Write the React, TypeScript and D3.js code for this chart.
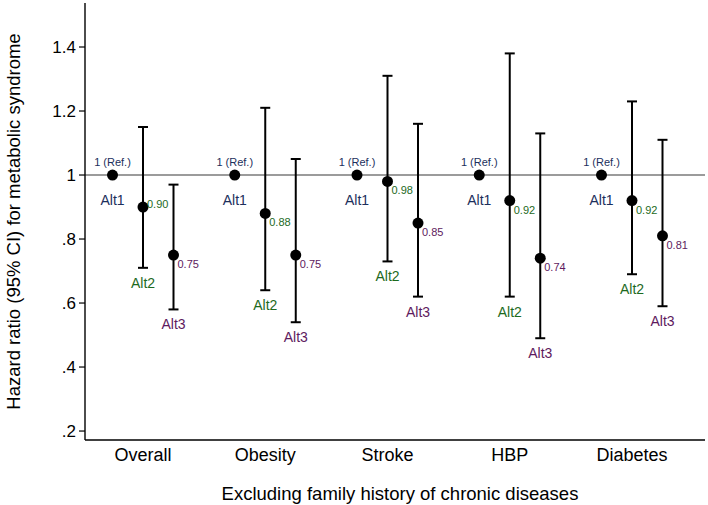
import React from "react";
import * as d3 from "d3";

const categories = ["Overall", "Obesity", "Stroke", "HBP", "Diabetes"];
const alts = ["Alt1", "Alt2", "Alt3"];
// hazard ratios
const alt2HR = [0.9, 0.88, 0.98, 0.92, 0.92];
const alt2Lo = [0.71, 0.64, 0.73, 0.62, 0.69];
const alt2Hi = [1.15, 1.21, 1.31, 1.38, 1.23];
const alt3HR = [0.75, 0.75, 0.85, 0.74, 0.81];
const alt3Lo = [0.58, 0.54, 0.62, 0.49, 0.59];
const alt3Hi = [0.97, 1.05, 1.16, 1.13, 1.11];
const yTicks = [0.2, 0.4, 0.6, 0.8, 1, 1.2, 1.4];
const yTickLabels = [".2", ".4", ".6", ".8", "1", "1.2", "1.4"];

const W = 708;
const H = 505;
const FONT = "'Liberation Sans', Arial, Helvetica, sans-serif";
const NAVY = "#1c2f5c";
const GREEN = "#1d6a1d";
const PURPLE = "#5e1a5e";

export default function App() {
  const left = 85;
  const right = 705;
  const top = 3;
  const bottom = 440;

  const y = d3.scaleLinear().domain([0.172, 1.5375]).range([bottom, top]);
  const xCat = d3.scalePoint<string>().domain(categories).range([143, 632]);
  const xAlt = d3.scalePoint<string>().domain(alts).range([-30.5, 30.5]);

  const series = [
    { alt: "Alt2", hr: alt2HR, lo: alt2Lo, hi: alt2Hi, color: GREEN },
    { alt: "Alt3", hr: alt3HR, lo: alt3Lo, hi: alt3Hi, color: PURPLE },
  ];

  const capW = 5;

  return (
    <svg
      width={W}
      height={H}
      style={{ position: "absolute", left: 0, top: 0, background: "#fff" }}
      fontFamily={FONT}
    >
      <rect width={W} height={H} fill="#fff" />
      {/* reference line */}
      <line x1={left} x2={right} y1={y(1)} y2={y(1)} stroke="#7a7a7a" strokeWidth={1.6} />

      {/* axes */}
      <line x1={left} x2={left} y1={top} y2={bottom} stroke="#000" strokeWidth={1.4} />
      <line x1={left} x2={right} y1={bottom} y2={bottom} stroke="#000" strokeWidth={1.4} />
      {yTicks.map((t, i) => (
        <g key={t}>
          <line x1={left - 6} x2={left} y1={y(t)} y2={y(t)} stroke="#000" strokeWidth={1.2} />
          <text
            x={left - 9}
            y={y(t)}
            dy="0.36em"
            textAnchor="end"
            fontSize={17}
            fill="#000"
          >
            {yTickLabels[i]}
          </text>
        </g>
      ))}
      <text
        transform={`translate(14,${(top + bottom) / 2}) rotate(-90)`}
        textAnchor="middle"
        fontSize={18.5}
        dy="0.35em"
        fill="#000"
      >
        Hazard ratio (95% CI) for metabolic syndrome
      </text>

      {categories.map((c) => (
        <text
          key={c}
          x={xCat(c)!}
          y={bottom + 21}
          textAnchor="middle"
          fontSize={18}
          fill="#000"
        >
          {c}
        </text>
      ))}
      <text x={(left + right) / 2 + 5} y={500} textAnchor="middle" fontSize={18.5} fill="#000">
        Excluding family history of chronic diseases
      </text>

      {/* Alt1 reference points */}
      {categories.map((c) => {
        const cx = xCat(c)! + xAlt("Alt1")!;
        return (
          <g key={"a1" + c}>
            <circle cx={cx} cy={y(1)} r={5.5} fill="#000" />
            <text x={cx} y={y(1) - 9} textAnchor="middle" fontSize={11} fill={NAVY}>
              1 (Ref.)
            </text>
            <text x={cx} y={y(1) + 30} textAnchor="middle" fontSize={14} fill={NAVY}>
              Alt1
            </text>
          </g>
        );
      })}

      {/* Alt2 / Alt3 with CIs */}
      {series.map((s) =>
        categories.map((c, i) => {
          const cx = xCat(c)! + xAlt(s.alt)!;
          const yHi = y(s.hi[i]);
          const yLo = y(s.lo[i]);
          const yHR = y(s.hr[i]);
          const labelDy = i === 0 && s.alt === "Alt2" ? 1 : 13;
          return (
            <g key={s.alt + c}>
              <line x1={cx} x2={cx} y1={yHi} y2={yLo} stroke="#000" strokeWidth={2} />
              <line x1={cx - capW} x2={cx + capW} y1={yHi} y2={yHi} stroke="#000" strokeWidth={2} />
              <line x1={cx - capW} x2={cx + capW} y1={yLo} y2={yLo} stroke="#000" strokeWidth={2} />
              <circle cx={cx} cy={yHR} r={5.5} fill="#000" />
              <text x={cx + 4} y={yHR + labelDy} fontSize={11} fill={s.color}>
                {s.hr[i].toFixed(2)}
              </text>
              <text x={cx} y={yLo + 20} textAnchor="middle" fontSize={14} fill={s.color}>
                {s.alt}
              </text>
            </g>
          );
        })
      )}
    </svg>
  );
}
